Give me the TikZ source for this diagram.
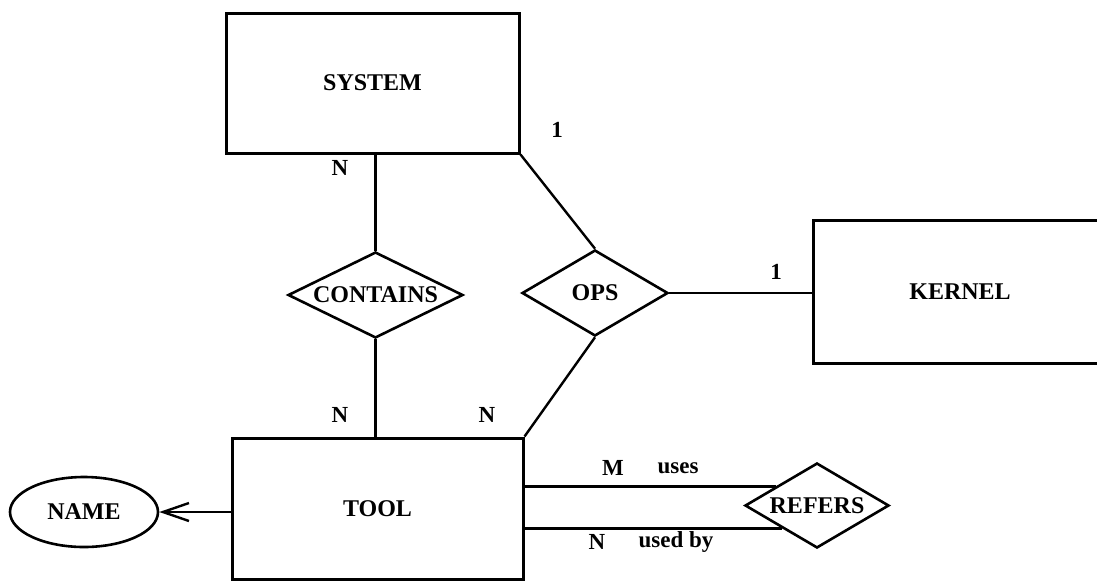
\documentclass[tikz,border=0pt]{standalone}
\usepackage{fontspec}
\setmainfont{Liberation Serif}
\usetikzlibrary{shapes.geometric,arrows.meta}
\begin{document}
\begin{tikzpicture}[x=1pt,y=-1pt,
  ent/.style={draw, line width=3pt, minimum width=293pt, minimum height=140pt,
    inner sep=0pt, font=\bfseries\fontsize{24}{28}\selectfont},
  rel/.style={draw, diamond, line width=2.6pt, inner sep=0pt,
    label={[font=\bfseries\fontsize{24}{28}\selectfont]center:#1}},
  attr/.style={draw, ellipse, line width=2.6pt, inner sep=0pt,
    minimum width=148pt, minimum height=70pt, font=\bfseries\fontsize{24}{28}\selectfont},
  conn/.style={line width=2.4pt},
  card/.style={font=\bfseries\fontsize{23}{26}\selectfont, inner sep=0pt}]
\useasboundingbox (0,0) rectangle (1097,582);
\clip (0,0) rectangle (1097,582);

\node[ent] (system) at (372.5,83) {SYSTEM};
\node[ent, minimum width=291pt, minimum height=141pt] (tool) at (377.5,508.5) {TOOL};
\node[ent, minimum width=294pt, minimum height=143pt] (kernel) at (960,291.5) {KERNEL};
\node[attr] (name) at (84,512) {NAME};

\node[rel=CONTAINS, minimum width=175pt, minimum height=86pt] (contains) at (375.5,295) {};
\node[rel=OPS, minimum width=146pt, minimum height=86pt] (ops) at (595,293) {};
\node[rel=REFERS, minimum width=144pt, minimum height=85pt] (refers) at (817,505.5) {};

\draw[conn] (contains.north) -- (contains.north |- system.south);
\draw[conn] (contains.south) -- (contains.south |- tool.north);
\draw[conn] (system.south east) -- (ops.north);
\draw[conn] (ops.east) -- (ops.east -| kernel.west);
\draw[conn] (ops.south) -- (tool.north east);
\draw[conn, -{Straight Barb[length=26pt,width=18pt,line width=2.4pt]}] (name.east -| tool.west) -- (name.east);
\draw[conn] (refers.155) -- (refers.155 -| tool.east);
\draw[conn] (refers.213) -- (refers.213 -| tool.east);

\node[card] (n1) at (340,168) {N};
\node[card] (c1) at (557,130) {1};
\node[card] (c2) at (776,272) {1};
\node[card] (n2) at (340,415) {N};
\node[card] (n3) at (487,415) {N};
\node[card] (m) at (613,468) {M};
\node[card] (uses) at (678,468) {uses};
\node[card] (n4) at (597,542) {N};
\node[card] (usedby) at (676,542) {used by};
\end{tikzpicture}
\end{document}
